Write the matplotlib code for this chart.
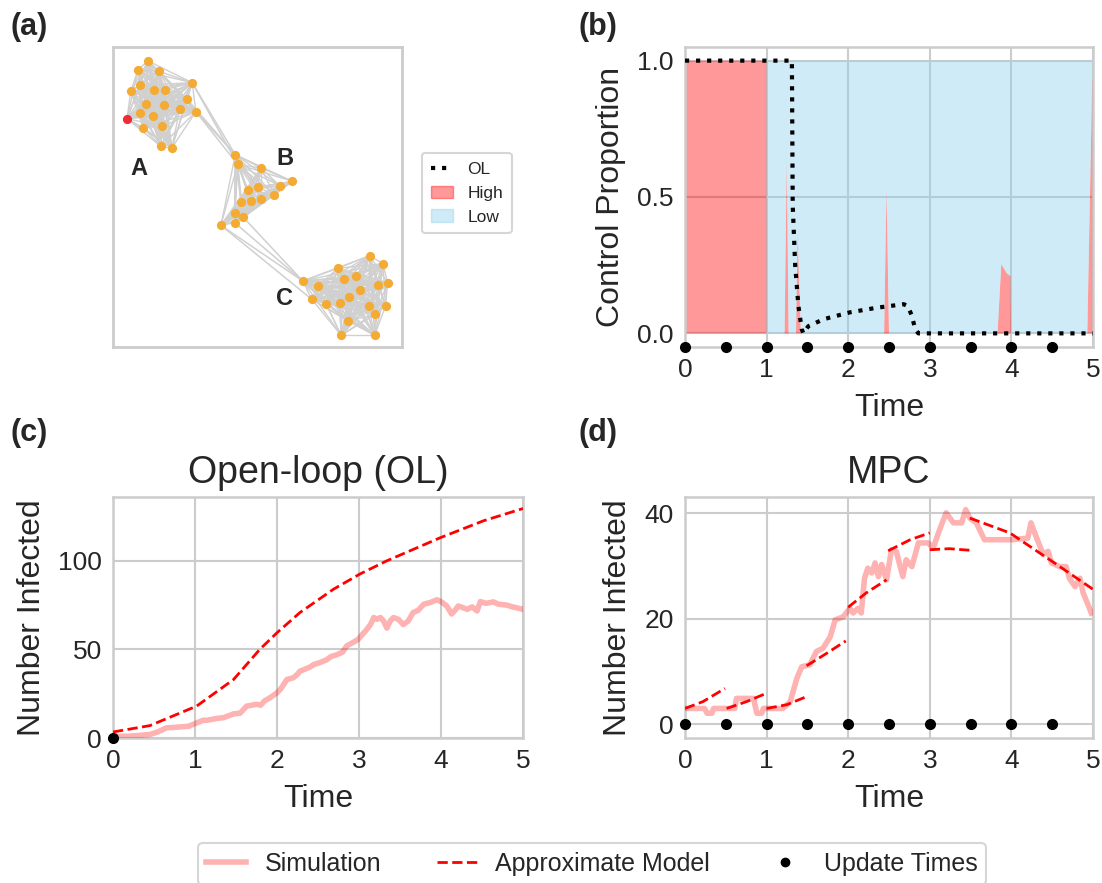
#!/usr/bin/env python3
"""Network, control proportion and infection curves (OL vs MPC)."""
import matplotlib
matplotlib.use("Agg")
import matplotlib.pyplot as plt  # noqa: E402
from matplotlib.lines import Line2D  # noqa: E402
from matplotlib.patches import Patch  # noqa: E402

plt.rcParams["font.family"] = ["Liberation Sans", "DejaVu Sans"]
plt.rcParams["text.color"] = "#262626"
plt.rcParams["axes.labelcolor"] = "#262626"
plt.rcParams["xtick.color"] = "#262626"
plt.rcParams["ytick.color"] = "#262626"

# ---- panel (a): network layout (layout units, y down) ----
NODES_A = [(145, 92), (115, 118), (178, 123), (277, 157), (120, 165), (93, 183),
           (162, 180), (195, 178), (262, 207), (140, 220), (192, 223), (240, 235),
           (122, 247), (288, 244), (160, 257), (130, 292), (188, 288), (183, 348),
           (216, 353)]
SEED_NODE = (82, 265)
NODES_B = [(406, 373), (413, 402), (483, 413), (577, 453), (540, 467), (443, 478),
           (473, 470), (523, 493), (423, 516), (452, 512), (483, 505), (404, 547),
           (430, 561), (404, 577), (363, 585)]
NODES_C = [(808, 676), (848, 700), (713, 714), (730, 745), (768, 737), (608, 752),
           (653, 767), (778, 780), (832, 765), (862, 757), (745, 800), (635, 807),
           (677, 820), (718, 818), (805, 828), (856, 826), (825, 852), (743, 872),
           (723, 915), (823, 915)]
BRIDGES = [((277, 157), (406, 373)), ((288, 244), (406, 373)), ((288, 244), (413, 402)),
           ((277, 157), (413, 402)), ((262, 207), (406, 373)),
           ((363, 585), (608, 752)), ((404, 577), (608, 752)),
           ((363, 585), (635, 807)), ((430, 561), (608, 752))]
CLUSTER_LABELS = ["A", "B", "C"]
CLUSTER_LABEL_POS = [(118, 415), (555, 385), (553, 805)]

# ---- panel (b): control proportions ----
UPDATE_TIMES = [0, 0.5, 1, 1.5, 2, 2.5, 3, 3.5, 4, 4.5]
T_CTRL = [0, 0.999, 1.0, 1.22, 1.247, 1.27, 1.36, 1.38, 1.42, 2.44, 2.47, 2.5,
          3.83, 3.876, 3.945, 3.99, 3.995, 4.93, 4.99, 5.0]
HIGH = [1, 1, 0, 0, 0.64, 0, 0, 0.37, 0, 0, 0.53, 0,
        0, 0.254, 0.22, 0.21, 0, 0, 0.93, 0.93]
T_OL = [0, 1.31, 1.32, 1.35, 1.39, 1.43, 1.45, 1.51, 1.70, 2.02, 2.35, 2.68,
        2.73, 2.78, 2.82, 2.86, 5.0]
OL = [1, 1, 0.47, 0.25, 0.1, 0.016, 0, 0.026, 0.052, 0.077, 0.094, 0.107,
      0.10, 0.065, 0.016, 0, 0]

# ---- panel (c): open loop ----
T_OL_MODEL = [0, 0.45, 1.02, 1.47, 1.79, 2.0, 2.28, 2.69, 3.01, 3.34, 3.99, 4.52, 5.0]
OL_MODEL = [3.4, 7, 18, 33, 50, 59.4, 70.8, 84, 92.5, 100, 113, 122.6, 129.5]
T_OL_SIM = [0, 0.2, 0.45, 0.55, 0.65, 0.75, 0.92, 1.02, 1.1, 1.15, 1.26, 1.35,
            1.47, 1.55, 1.6, 1.63, 1.75, 1.8, 1.85, 1.91, 2.0, 2.05, 2.12, 2.2,
            2.25, 2.28, 2.4, 2.45, 2.52, 2.6, 2.66, 2.73, 2.8, 2.85, 2.93, 2.99,
            3.09, 3.14, 3.18, 3.22, 3.26, 3.3, 3.34, 3.38, 3.42, 3.48, 3.54, 3.6,
            3.66, 3.72, 3.79, 3.87, 3.95, 4.0, 4.07, 4.13, 4.17, 4.21, 4.27, 4.32,
            4.38, 4.44, 4.48, 4.55, 4.64, 4.7, 4.8, 4.87, 4.92, 5.0]
OL_SIM = [1, 1, 2, 3.5, 5.7, 6, 6.6, 8.5, 10, 10, 11, 11.5, 13.6, 14, 16.5, 18,
          19, 18.5, 21, 22.6, 25.5, 28, 33, 34, 36, 37.7, 40, 41.5, 42.5, 44,
          46, 47, 48.5, 52, 54, 55.7, 61, 64, 68, 67, 68, 66, 62, 66, 68, 67,
          64, 66, 70.8, 72, 75.5, 76.5, 78, 77, 74.5, 70, 72, 74.5, 73.5, 72.6,
          74, 71.7, 77, 76, 76.8, 75.5, 75, 74, 73.5, 72.6]

# ---- panel (d): MPC ----
MPC_SEGMENTS_T = [[0, 0.22, 0.49], [0.51, 0.755, 1.0], [1.0, 1.245, 1.49],
                  [1.49, 1.73, 1.97], [2.0, 2.22, 2.47], [2.49, 2.76, 3.0],
                  [3.0, 3.24, 3.49], [3.49, 3.98, 4.47, 5.0]]
MPC_SEGMENTS_Y = [[3.0, 4.3, 6.8], [3.0, 4.3, 5.9], [3.0, 3.7, 5.25],
                  [11.1, 13.4, 15.8], [22.2, 24.9, 27.4], [32.9, 35.0, 36.3],
                  [33.1, 33.3, 33.0], [39.1, 36.3, 31.2, 25.6]]
T_MPC_SIM = [0, 0.24, 0.27, 0.33, 0.35, 0.61, 0.63, 0.84, 0.88, 0.94, 0.96, 1.2,
             1.29, 1.37, 1.43, 1.53, 1.61, 1.69, 1.78, 1.84, 1.94, 2.02, 2.06,
             2.12, 2.16, 2.2, 2.24, 2.29, 2.33, 2.37, 2.41, 2.47, 2.53, 2.59,
             2.63, 2.67, 2.71, 2.78, 2.86, 2.98, 3.04, 3.12, 3.2, 3.29, 3.39,
             3.44, 3.49, 3.57, 3.67, 3.9, 4.0, 4.2, 4.24, 4.31, 4.39, 4.45, 4.49,
             4.59, 4.67, 4.71, 4.78, 4.84, 4.88, 4.98]
MPC_SIM = [3.0, 3.0, 2.1, 2.1, 3.0, 3.0, 4.9, 4.9, 2.1, 2.1, 3.0, 3.0,
           4.3, 8.7, 10.9, 11.3, 13.8, 14.4, 16.6, 19.8, 20.4, 22.0, 21.1,
           22.0, 21.1, 27.7, 29.6, 28.7, 30.6, 28.0, 30.3, 27.4, 33.1, 32.8,
           30.3, 28.0, 31.2, 29.9, 34.4, 34.4, 33.4, 36.9, 40.1, 38.2, 38.2,
           40.7, 39.1, 38.2, 35.0, 35.0, 35.0, 35.3, 38.2, 35.3, 32.2, 32.8, 30.6,
           29.9, 29.9, 27.7, 26.1, 27.7, 24.9, 21.1]

SIM_COLOR = (1.0, 0.0, 0.0, 0.3)
HIGH_COLOR = (1, 0, 0, 0.4)
LOW_COLOR = (0.53, 0.81, 0.92, 0.4)
GRID = "#cccccc"
TICK_FS = 19
LABEL_FS = 23


def style_axes(ax):
    ax.set_facecolor("white")
    for s in ax.spines.values():
        s.set_color(GRID)
        s.set_linewidth(1.8)
    ax.grid(color=GRID, lw=1.5)
    ax.set_axisbelow(True)
    ax.tick_params(length=0, labelsize=TICK_FS, pad=8)


fig = plt.figure(figsize=(11.02, 8.83), dpi=100)

# (a) network
ax_a = fig.add_axes([113 / 1102, 1 - 347 / 883, 289 / 1102, 300 / 883])
groups = [NODES_A + [SEED_NODE], NODES_B, NODES_C]
for g in groups:
    for i in range(len(g)):
        for j in range(i + 1, len(g)):
            ax_a.plot([g[i][0], g[j][0]], [g[i][1], g[j][1]], color="#d0d0d0",
                      lw=1.0, zorder=1)
for p, q in BRIDGES:
    ax_a.plot([p[0], q[0]], [p[1], q[1]], color="#d0d0d0", lw=1.1, zorder=1)
allnodes = NODES_A + NODES_B + NODES_C
ax_a.scatter([n[0] for n in allnodes], [n[1] for n in allnodes], s=44,
             color="#f3ab34", zorder=2, linewidths=0)
ax_a.scatter([SEED_NODE[0]], [SEED_NODE[1]], s=44, color="#ee2c36", zorder=3,
             linewidths=0)
for lab, (x, y) in zip(CLUSTER_LABELS, CLUSTER_LABEL_POS):
    ax_a.text(x, y, lab, fontsize=17, fontweight="bold", ha="center", va="center")
ax_a.set_xlim(40, 905)
ax_a.set_ylim(950, 50)
ax_a.set_xticks([])
ax_a.set_yticks([])
for s in ax_a.spines.values():
    s.set_color(GRID)
    s.set_linewidth(2)

# (b) control proportion
ax_b = fig.add_axes([685 / 1102, 1 - 347 / 883, 408 / 1102, 300 / 883])
style_axes(ax_b)
low = [1 - h for h in HIGH]
ax_b.stackplot(T_CTRL, HIGH, low, colors=[HIGH_COLOR, LOW_COLOR], zorder=2)
ax_b.plot(T_OL, OL, color="black", ls=":", lw=3, zorder=4)
ax_b.plot(UPDATE_TIMES, [-0.05] * len(UPDATE_TIMES), "o", color="black", ms=7,
          clip_on=False, zorder=5)
ax_b.set_xlim(0, 5)
ax_b.set_ylim(-0.05, 1.05)
ax_b.set_yticks([0, 0.5, 1.0])
ax_b.set_yticklabels(["0.0", "0.5", "1.0"])
ax_b.set_xlabel("Time", fontsize=LABEL_FS, labelpad=8)
ax_b.set_ylabel("Control Proportion", fontsize=LABEL_FS, labelpad=8)

handles_b = [Line2D([], [], color="black", ls=":", lw=3, label="OL"),
             Patch(color=HIGH_COLOR, label="High"),
             Patch(color=LOW_COLOR, label="Low")]
leg_b = fig.legend(handles=handles_b, loc="upper left",
                   bbox_to_anchor=(422 / 1102, 1 - 153 / 883), fontsize=12.5,
                   handlelength=1.3, frameon=True, borderpad=0.5,
                   borderaxespad=0)
leg_b.get_frame().set_edgecolor(GRID)
leg_b.get_frame().set_linewidth(1.5)

# (c) open loop
ax_c = fig.add_axes([113 / 1102, 1 - 738 / 883, 410 / 1102, 241 / 883])
style_axes(ax_c)
ax_c.plot(T_OL_SIM, OL_SIM, color=SIM_COLOR, lw=4, zorder=3)
ax_c.plot(T_OL_MODEL, OL_MODEL, color="red", ls="--", lw=2, zorder=4)
ax_c.plot([0], [0], "o", color="black", ms=7, clip_on=False, zorder=5)
ax_c.set_xlim(0, 5)
ax_c.set_ylim(0, 136)
ax_c.set_yticks([0, 50, 100])
ax_c.set_xlabel("Time", fontsize=LABEL_FS, labelpad=8)
ax_c.set_ylabel("Number Infected", fontsize=LABEL_FS, labelpad=8)
ax_c.set_title("Open-loop (OL)", fontsize=27, pad=10)

# (d) MPC
ax_d = fig.add_axes([685 / 1102, 1 - 738 / 883, 408 / 1102, 241 / 883])
style_axes(ax_d)
ax_d.plot(T_MPC_SIM, MPC_SIM, color=SIM_COLOR, lw=4, zorder=3)
for ts, ys in zip(MPC_SEGMENTS_T, MPC_SEGMENTS_Y):
    ax_d.plot(ts, ys, color="red", ls="--", lw=2, zorder=4)
ax_d.plot(UPDATE_TIMES, [0] * len(UPDATE_TIMES), "o", color="black", ms=7,
          clip_on=False, zorder=5)
ax_d.set_xlim(0, 5)
ax_d.set_ylim(-2.6, 43.1)
ax_d.set_yticks([0, 20, 40])
ax_d.set_xlabel("Time", fontsize=LABEL_FS, labelpad=8)
ax_d.set_ylabel("Number Infected", fontsize=LABEL_FS, labelpad=8)
ax_d.set_title("MPC", fontsize=27, pad=10)

# bottom legend
handles = [Line2D([], [], color=SIM_COLOR, lw=4, label="Simulation"),
           Line2D([], [], color="red", ls="--", lw=2, label="Approximate Model"),
           Line2D([], [], color="black", marker="o", ls="none", ms=6,
                  label="Update Times")]
leg = fig.legend(handles=handles, loc="upper center", ncol=3,
                 bbox_to_anchor=(592 / 1102, 1 - 843 / 883), fontsize=18,
                 handlelength=1.6, handletextpad=0.75, columnspacing=2.2,
                 frameon=True, borderpad=0.35, borderaxespad=0)
leg.get_frame().set_edgecolor(GRID)
leg.get_frame().set_linewidth(1.5)

# panel letters
for lab, (x, y) in zip(["(a)", "(b)", "(c)", "(d)"],
                       [(10, 12), (578, 12), (10, 418), (578, 418)]):
    fig.text(x / 1102, 1 - y / 883, lab, fontsize=22, fontweight="bold",
             ha="left", va="top")

fig.savefig("out.png", dpi=100)
print("wrote out.png")
